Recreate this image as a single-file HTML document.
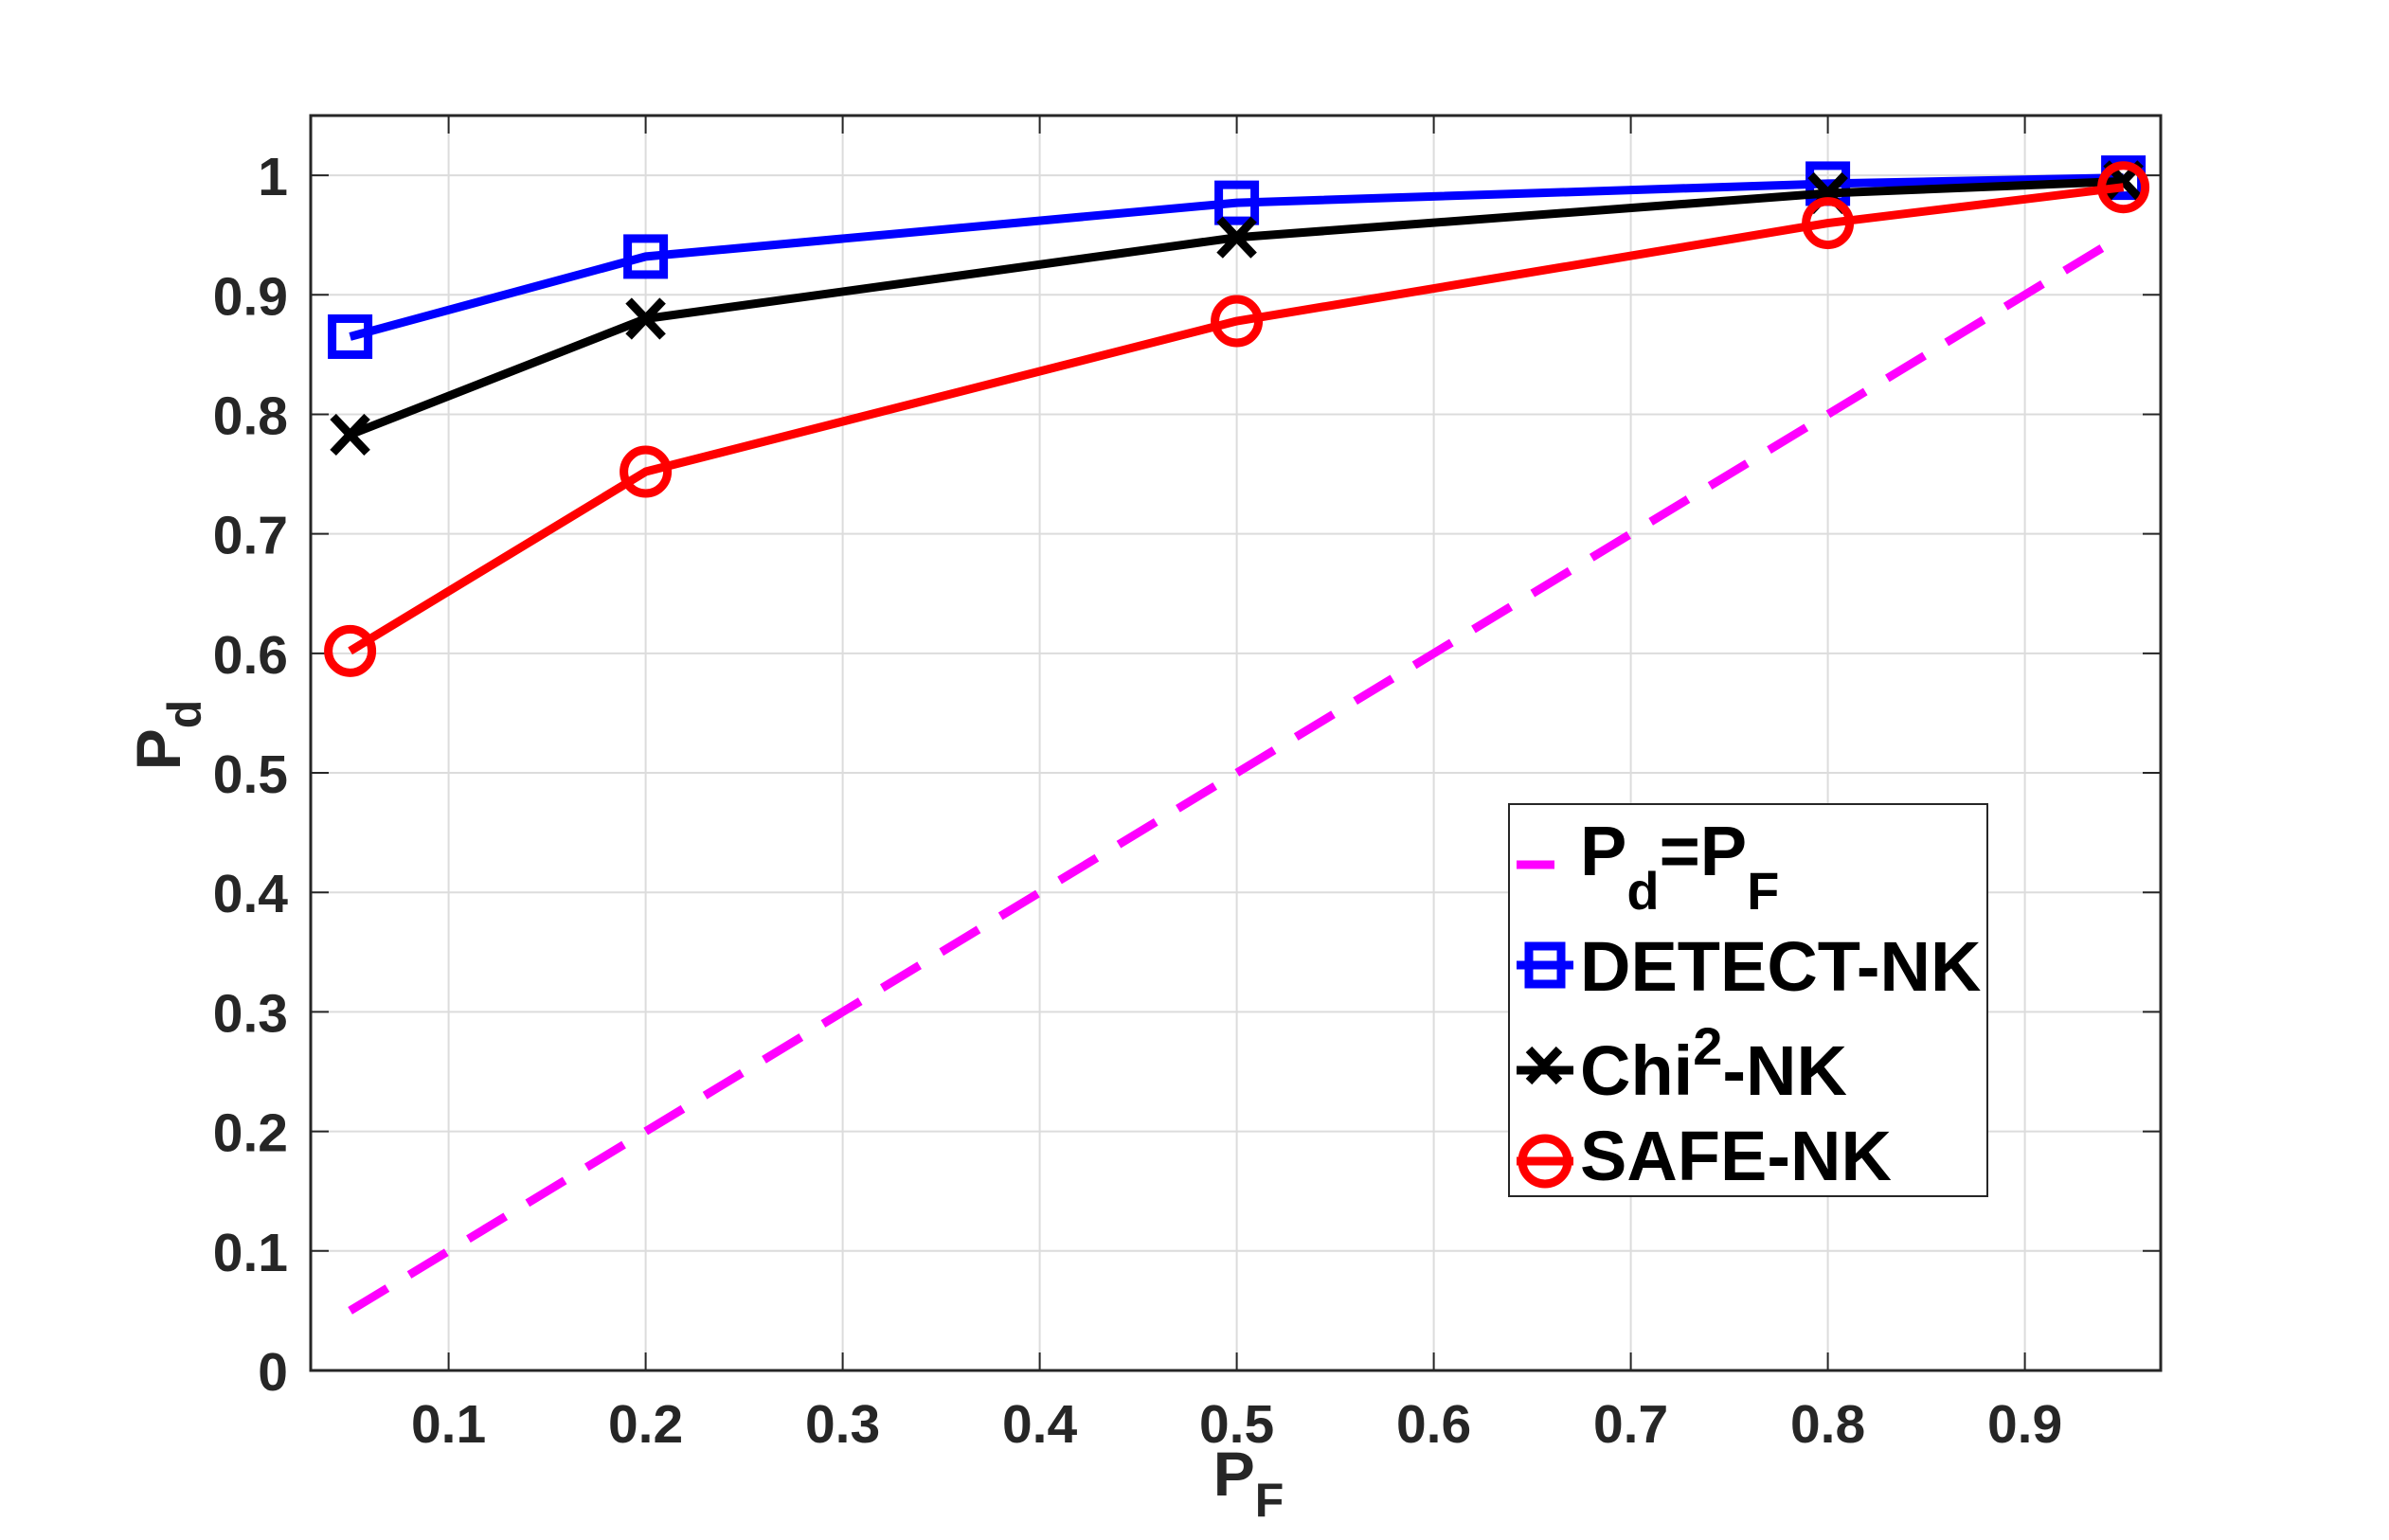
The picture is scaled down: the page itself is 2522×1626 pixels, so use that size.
<!DOCTYPE html>
<html><head><meta charset="utf-8"><style>
html,body{margin:0;padding:0;background:#fff;}
svg{display:block;font-family:"Liberation Sans",Arial,sans-serif;font-weight:bold;}
</style></head><body>
<svg id="chart" width="2522" height="1626" viewBox="0 0 2522 1626" xmlns="http://www.w3.org/2000/svg">
<rect width="2522" height="1626" fill="#fff"/>
<g id="grid"></g>
<g id="axes"></g>
<g id="series"></g>
<text x="1318" y="1579" font-size="66" fill="#262626" text-anchor="middle">P<tspan font-size="50" dy="22">F</tspan></text>
<text transform="translate(190,776) rotate(-90)" font-size="66" fill="#262626" text-anchor="middle">P<tspan font-size="50" dy="22">d</tspan></text>
<g>
<rect x="1593" y="849" width="505" height="414" fill="#fff" stroke="#262626" stroke-width="2"/>
<g>
<line x1="1601" y1="913" x2="1641" y2="913" stroke="#ff00ff" stroke-width="9"/>
<text x="1668" y="924" font-size="74" fill="#000">P<tspan font-size="56" dy="36">d</tspan><tspan dy="-36">=P</tspan><tspan font-size="56" dy="36">F</tspan></text>
</g>
<g>
<line x1="1601" y1="1019" x2="1661" y2="1019" stroke="#0000ff" stroke-width="9"/>
<rect x="1614" y="999" width="34" height="40" fill="none" stroke="#0000ff" stroke-width="9"/>
<text x="1668" y="1046" font-size="74" fill="#000">DETECT-NK</text>
</g>
<g>
<line x1="1601" y1="1130" x2="1661" y2="1130" stroke="#000" stroke-width="9"/>
<path d="M1614 1108 L1646 1142 M1646 1108 L1614 1142" stroke="#000" stroke-width="9"/>
<text x="1668" y="1156" font-size="74" fill="#000">Chi<tspan font-size="56" dy="-32">2</tspan><tspan dy="32">-NK</tspan></text>
</g>
<g>
<line x1="1601" y1="1226" x2="1661" y2="1226" stroke="#ff0000" stroke-width="9"/>
<circle cx="1631" cy="1226" r="24" fill="none" stroke="#ff0000" stroke-width="9"/>
<text x="1668" y="1246" font-size="74" fill="#000">SAFE-NK</text>
</g>
</g>
</svg>
<script>
const xCats = [0.05, 0.2, 0.5, 0.8, 0.95];
const detectVals = [0.865, 0.932, 0.977, 0.993, 0.998];
const chiVals = [0.783, 0.880, 0.948, 0.985, 0.995];
const safeVals = [0.602, 0.752, 0.878, 0.960, 0.990];
const diagX = [0.05, 0.95];
const diagY = [0.05, 0.95];
const xTicks = [0.1,0.2,0.3,0.4,0.5,0.6,0.7,0.8,0.9];
const yTicks = [0,0.1,0.2,0.3,0.4,0.5,0.6,0.7,0.8,0.9,1];
const xTickLabels = ["0.1","0.2","0.3","0.4","0.5","0.6","0.7","0.8","0.9"];
const yTickLabels = ["0","0.1","0.2","0.3","0.4","0.5","0.6","0.7","0.8","0.9","1"];

const L=328,R=2281,T=122,B=1447;
const xMin=0.03,xMax=0.03+(2281-328)/2080,yMin=0,yMax=1.05;
const sx=v=>L+(v-xMin)/(xMax-xMin)*(R-L);
const sy=v=>B-(v-yMin)/(yMax-yMin)*(B-T);
const NS="http://www.w3.org/2000/svg";
function mk(tag,attrs,parent){const e=document.createElementNS(NS,tag);for(const k in attrs)e.setAttribute(k,attrs[k]);parent.appendChild(e);return e;}
const grid=document.getElementById('grid'),axes=document.getElementById('axes'),series=document.getElementById('series');
xTicks.forEach((t,i)=>{
  const g=mk('line',{x1:sx(t),x2:sx(t),y1:T,y2:B,stroke:'#dcdcdc','stroke-width':2},grid);
  
  
  mk('line',{x1:sx(t),x2:sx(t),y1:B,y2:B-19,stroke:'#262626','stroke-width':2},axes);
  mk('line',{x1:sx(t),x2:sx(t),y1:T,y2:T+19,stroke:'#262626','stroke-width':2},axes);
  const tx=mk('text',{x:sx(t),y:1523,'font-size':57,fill:'#262626','text-anchor':'middle'},axes);
  tx.textContent=xTickLabels[i];
  
  
});
yTicks.forEach((t,i)=>{
  const g=mk('line',{x1:L,x2:R,y1:sy(t),y2:sy(t),stroke:'#dcdcdc','stroke-width':2},grid);
  
  
  mk('line',{x1:L,x2:L+19,y1:sy(t),y2:sy(t),stroke:'#262626','stroke-width':2},axes);
  mk('line',{x1:R,x2:R-19,y1:sy(t),y2:sy(t),stroke:'#262626','stroke-width':2},axes);
  const tx=mk('text',{x:304,y:sy(t)+21,'font-size':57,fill:'#262626','text-anchor':'end'},axes);
  tx.textContent=yTickLabels[i];
  
  
});
const frame=mk('rect',{x:L,y:T,width:R-L,height:B-T,fill:'none',stroke:'#262626','stroke-width':3},axes);



const diag=mk('polyline',{points:diagX.map((x,i)=>sx(x)+','+sy(diagY[i])).join(' '),fill:'none',stroke:'#ff00ff','stroke-width':9,'stroke-dasharray':'46 27'},series);



function drawSeries(vals,color,marker,name){
  const pl=mk('polyline',{points:xCats.map((x,i)=>sx(x)+','+sy(vals[i])).join(' '),fill:'none',stroke:color,'stroke-width':9,'stroke-linejoin':'round'},series);
  
  
  xCats.forEach((x,i)=>{
    const cx=sx(x),cy=sy(vals[i]);let m;
    if(marker==='square')m=mk('rect',{x:cx-19,y:cy-19,width:38,height:38,fill:'none',stroke:color,'stroke-width':9},series);
    else if(marker==='x')m=mk('path',{d:`M${cx-18} ${cy-19}L${cx+18} ${cy+19}M${cx+18} ${cy-19}L${cx-18} ${cy+19}`,stroke:color,'stroke-width':9},series);
    else m=mk('circle',{cx:cx,cy:cy,r:23,fill:'none',stroke:color,'stroke-width':9},series);
    
    
  });
}
drawSeries(detectVals,'#0000ff','square','detect-nk');
drawSeries(chiVals,'#000000','x','chi2-nk');
drawSeries(safeVals,'#ff0000','circle','safe-nk');
</script>
</body></html>
